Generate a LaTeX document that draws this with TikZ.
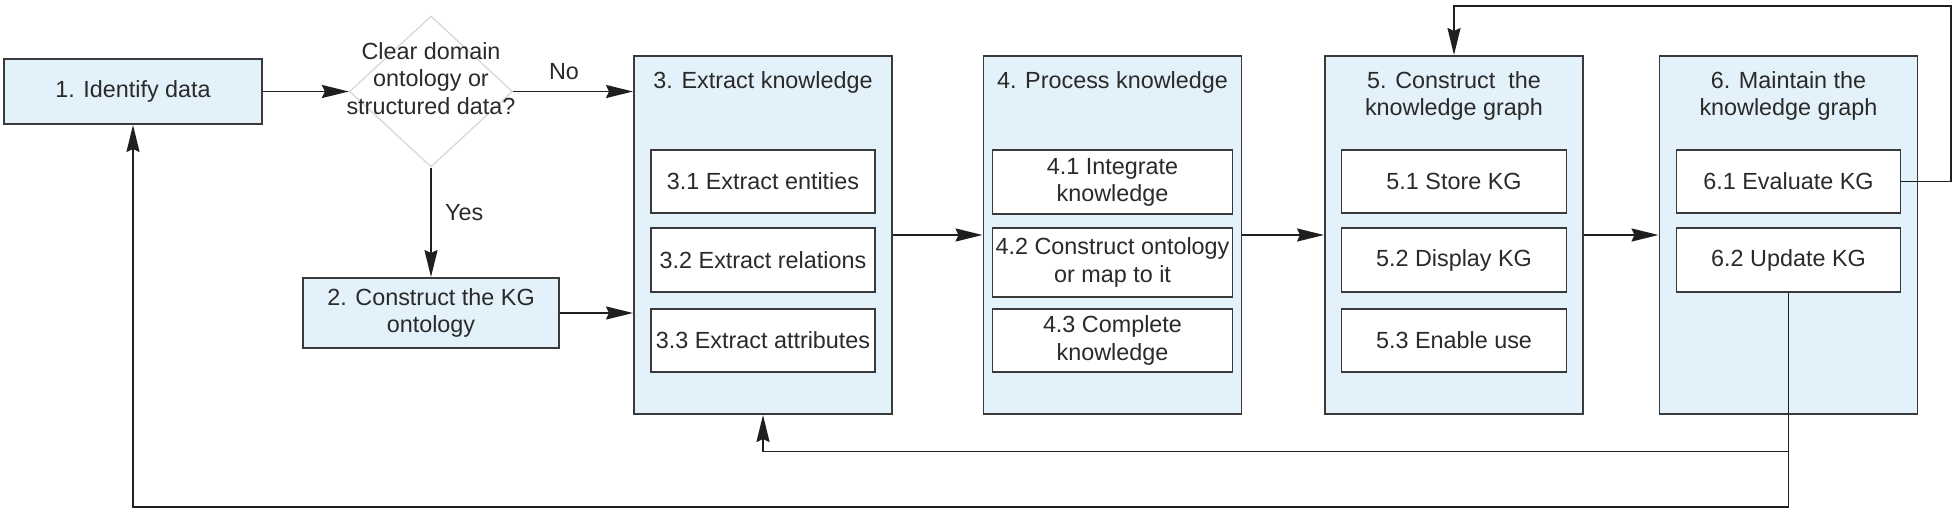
\documentclass[tikz,border=0pt]{standalone}
\usepackage{fontspec}
\setmainfont{Liberation Sans}
\usetikzlibrary{arrows.meta}
\usetikzlibrary{shapes.geometric}
\definecolor{kgblue}{HTML}{E3F1FA}
\definecolor{kgline}{HTML}{3A3A3A}
\definecolor{kggrey}{HTML}{D6D6D6}
\definecolor{kgtext}{HTML}{2A2A2A}
\tikzset{
	every node/.style={font=\fontsize{13.3}{15.5}\selectfont, text=kgtext},
	stagebox/.style={draw=kgline, fill=kgblue, line width=1.1pt, minimum width=5.16cm, minimum height=7.16cm, inner sep=0pt},
	task/.style={draw=kgline, fill=white, line width=1.1pt, align=center, inner sep=0pt, minimum height=1.27cm},
	decision/.style={diamond, draw=kggrey, line width=0.7pt, minimum width=3.26cm, minimum height=3.02cm, inner sep=0pt},
	flow/.style={-{Stealth[length=0.54cm,width=0.26cm,inset=0.06cm]}, draw=black!88, line width=1.1pt},
}
\newcommand{\subtask}[5] % name, x in cm, y in cm, width in cm, text
{
	\node[task, minimum width=#4cm] (#1) at (#2,#3) {#5};
}
\newcommand{\stage}[3] % name, x in cm, title
{
	% outer box
	\node[stagebox] (#1) at (#2,5.62) {};
	% title
	\node[align=center, anchor=north] (#1title) at (#2,9.02) {#3};
}

\begin{document}
\begin{tikzpicture}
	% 1958 x 516 px, 1 px = 0.02 cm
	\useasboundingbox (0,0) rectangle (39.16,10.32);
	% start and decision
	\node[task, fill=kgblue, minimum width=5.16cm, minimum height=1.30cm] (id) at (2.66,8.49) {1. Identify data};
	\node[decision] (dec) at (8.62,8.49) {};
	\node[align=center] (dectext) at (8.62,8.75) {Clear domain\\ontology or\\structured data?};
	\node[task, fill=kgblue, minimum width=5.12cm, minimum height=1.40cm] (kgo) at (8.62,4.06) {2. Construct the KG\\ontology};
	% stages
	\stage{s3}{15.26}{3. Extract knowledge}
	\stage{s4}{22.25}{4. Process knowledge}
	\stage{s5}{29.08}{5. Construct\ \ the\\knowledge graph}
	\stage{s6}{35.77}{6. Maintain the\\knowledge graph}
	% sub-tasks
	\subtask{t31}{15.26}{6.69}{4.48}{3.1 Extract entities}
	\subtask{t32}{15.26}{5.12}{4.48}{3.2 Extract relations}
	\subtask{t33}{15.26}{3.51}{4.48}{3.3 Extract attributes}
	\subtask{t41}{22.25}{6.68}{4.80}{4.1 Integrate\\knowledge}
	\node[task, minimum width=4.80cm, minimum height=1.38cm] (t42) at (22.25,5.07) {4.2 Construct ontology\\or map to it};
	\subtask{t43}{22.25}{3.51}{4.80}{4.3 Complete\\knowledge}
	\subtask{t51}{29.08}{6.69}{4.50}{5.1 Store KG}
	\subtask{t52}{29.08}{5.12}{4.50}{5.2 Display KG}
	\subtask{t53}{29.08}{3.51}{4.50}{5.3 Enable use}
	\subtask{t61}{35.77}{6.69}{4.48}{6.1 Evaluate KG}
	\subtask{t62}{35.77}{5.12}{4.48}{6.2 Update KG}
	% main flow
	\draw[flow] (id) -- (dec);
	\draw[flow] (dec.east) -- (dec.east -| s3.west);
	\node (no) at (11.28,8.88) {No};
	\draw[flow] (dec) -- (kgo);
	\node[anchor=west] (yes) at (8.78,6.06) {Yes};
	\draw[flow] (kgo.east) -- (kgo.east -| s3.west);
	\draw[flow] (s3) -- (s4);
	\draw[flow] (s4) -- (s5);
	\draw[flow] (s5) -- (s6);
	% feedback loops
	\coordinate (loopR) at (39.02,10.20);
	\coordinate (loopB) at (0,0.18);
	\coordinate (loopM) at (0,1.29);
	\draw[flow] (t61.east) -- (t61.east -| loopR) -- (loopR) -- (loopR -| s5.north) -- (s5.north);
	\draw[flow] (t62.south) -- (t62.south |- loopB) -- (loopB -| id.south) -- (id.south);
	\draw[flow] (t62.south |- loopM) -- (loopM -| s3.south) -- (s3.south);
\end{tikzpicture}
\end{document}
